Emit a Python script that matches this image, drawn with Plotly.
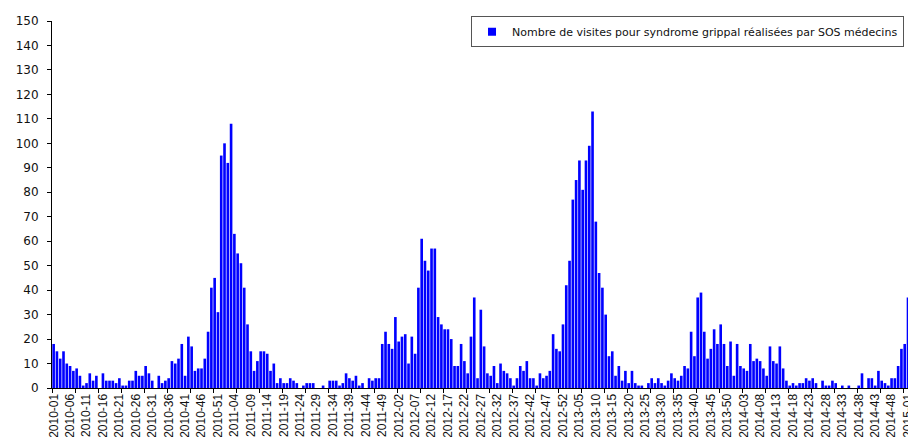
import plotly.graph_objects as go

# Weekly counts (ISO weeks)
v2010 = [18, 15, 12, 15, 10, 9, 7, 8, 5, 1, 2, 6, 3, 5, 0, 6, 3, 3, 3, 2,
         4, 1, 1, 3, 3, 7, 5, 5, 9, 6, 3, 0, 5, 2, 3, 4, 11, 10, 12, 18,
         5, 21, 17, 7, 8, 8, 12, 23, 41, 45, 31, 95]
v2011 = [100, 92, 108, 63, 55, 51, 41, 26, 15, 7, 11, 15, 15, 14, 7, 10, 2, 4, 2, 2,
         4, 3, 2, 0, 1, 2, 2, 2, 0, 0, 1, 0, 3, 3, 3, 1, 2, 6, 4, 3,
         5, 1, 2, 0, 4, 3, 4, 4, 18, 23, 18, 16]
v2012 = [29, 19, 21, 22, 10, 21, 14, 41, 61, 52, 48, 57, 57, 29, 26, 24, 24, 20, 9, 9,
         18, 11, 6, 21, 37, 4, 32, 17, 6, 5, 9, 2, 10, 7, 6, 4, 1, 4, 9, 7,
         11, 4, 4, 1, 6, 4, 5, 7, 22, 16, 15, 26]
v2013 = [42, 52, 77, 85, 93, 81, 93, 99, 113, 68, 47, 41, 30, 13, 15, 5, 9, 3, 7, 2,
         7, 2, 1, 1, 0, 2, 4, 2, 4, 2, 1, 3, 6, 4, 3, 5, 9, 8, 23, 13,
         37, 39, 23, 12, 16, 24, 18, 26, 18, 9, 19, 5]
v2014 = [18, 9, 8, 7, 18, 11, 12, 11, 8, 5, 17, 11, 10, 17, 8, 3, 1, 2, 1, 2,
         2, 4, 3, 4, 2, 0, 3, 1, 1, 3, 2, 0, 1, 0, 1, 0, 0, 1, 6, 0,
         4, 4, 1, 7, 3, 2, 1, 4, 4, 9, 16, 18]
v2015 = [37]

years = [2010, 2011, 2012, 2013, 2014, 2015]
series = [v2010, v2011, v2012, v2013, v2014, v2015]

weeks = []
values = []
for yr, vals in zip(years, series):
    for k, v in enumerate(vals):
        weeks.append(f"{yr}-{k + 1:02d}")
        values.append(v)

tick_labels = weeks[::5]
y_ticks = list(range(0, 151, 10))
legend_name = "Nombre de visites pour syndrome grippal réalisées par SOS médecins"

x_end = len(weeks) - 1.0
minor_ticks = [-0.5 + 7 * k for k in range(0, 40) if -0.5 + 7 * k <= x_end]

fig = go.Figure()
fig.add_trace(go.Bar(
    x=weeks, y=values, marker=dict(color="#0000FF", line=dict(width=0)),
    showlegend=False, hoverinfo="x+y"))
# legend entry (small square swatch), on the tick-mark overlay axis
fig.add_trace(go.Scatter(
    x=[None], y=[None], mode="markers", xaxis="x2", yaxis="y",
    marker=dict(symbol="square", size=8, color="#0000FF"),
    name=legend_name, showlegend=True))

fig.update_layout(
    template="none",
    width=908, height=437,
    margin=dict(l=52, r=0, t=21, b=49, pad=0),
    paper_bgcolor="white", plot_bgcolor="white",
    bargap=0.2,
    font=dict(family="DejaVu Sans", color="#111111"),
    xaxis=dict(
        type="category", range=[-0.5, x_end], automargin=False,
        showline=True, linecolor="black", linewidth=1,
        ticks="", tickmode="array", tickvals=tick_labels, ticktext=tick_labels,
        tickangle=-90, tickfont=dict(family="Liberation Sans", size=12, color="#111111"),
        showgrid=False, zeroline=False),
    xaxis2=dict(
        type="linear", overlaying="x", anchor="y", side="bottom",
        range=[-0.5, x_end], automargin=False,
        tickmode="array", tickvals=minor_ticks, ticks="outside", ticklen=4,
        tickcolor="black", tickwidth=1, showticklabels=False,
        showline=False, showgrid=False, zeroline=False),
    yaxis=dict(
        range=[0, 150], automargin=False,
        tickmode="array", tickvals=y_ticks,
        showline=True, linecolor="black", linewidth=1,
        ticks="outside", ticklen=4, tickcolor="black", ticklabelstandoff=6,
        tickfont=dict(family="DejaVu Sans", size=12, color="#111111"),
        showgrid=False, zeroline=False),
    legend=dict(
        x=0.4895, y=1.0128, xanchor="left", yanchor="top",
        bgcolor="white", bordercolor="#555555", borderwidth=1,
        font=dict(family="DejaVu Sans", size=11, color="#111111")),
)

fig.write_html(
    "out.html",
    config={"displayModeBar": False},
    post_script="document.body.style.margin='0';document.body.style.overflow='hidden';",
)
